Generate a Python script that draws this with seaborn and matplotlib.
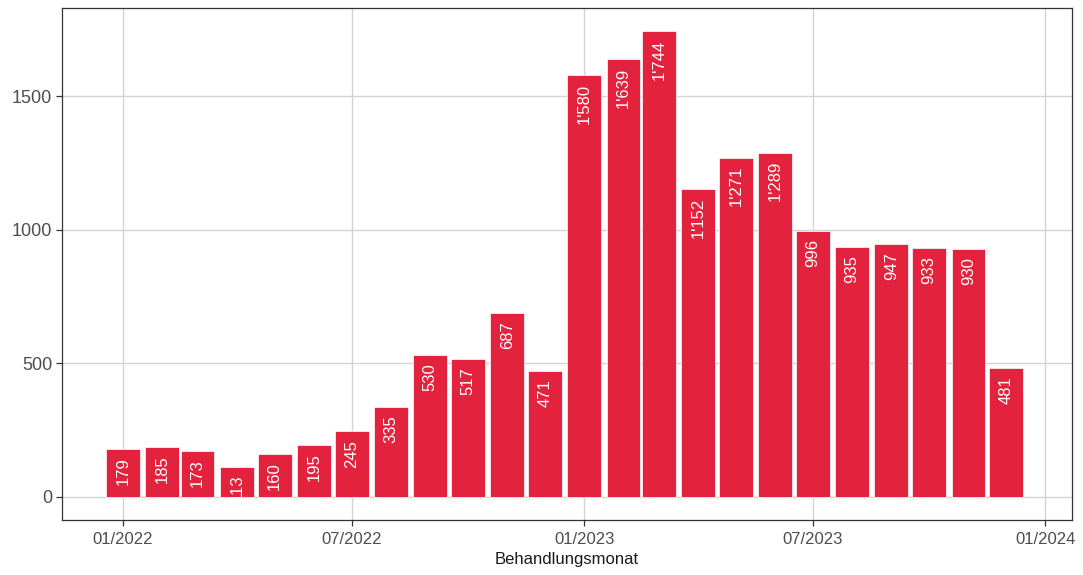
import pandas as pd
import seaborn as sns
import matplotlib.pyplot as plt
import matplotlib.dates as mdates

# data: monthly counts
months = pd.date_range("2022-01-01", "2023-12-01", freq="MS")
counts = [179, 185, 173, 113, 160, 195, 245, 335, 530, 517, 687, 471,
          1580, 1639, 1744, 1152, 1271, 1289, 996, 935, 947, 933, 930, 481]
x_ticks = ["2022-01-01", "2022-07-01", "2023-01-01", "2023-07-01", "2024-01-01"]

df = pd.DataFrame({"monat": mdates.date2num(months), "anzahl": counts})

sns.set_style("whitegrid")
plt.rcParams["font.family"] = ["Liberation Sans", "DejaVu Sans"]

fig = plt.figure(figsize=(10.83, 5.75), dpi=100)
ax = fig.add_axes([0.0573, 0.0957, 0.9325, 0.8903])

sns.barplot(data=df, x="monat", y="anzahl", native_scale=True, width=0.95,
            color="#E3223D", saturation=1, edgecolor="white", linewidth=0.5, ax=ax)

# white value labels, rotated, inside the bar top
for x, v in zip(df["monat"], df["anzahl"]):
    ax.annotate(f"{v:,}".replace(",", "'"), (x, v), xytext=(0, -6),
                textcoords="offset points", rotation=90, ha="center", va="top",
                color="white", fontsize=12, annotation_clip=False)

# axis ranges, ggplot-like expansion
start = mdates.date2num(pd.Timestamp("2022-01-01"))
ax.set_xlim(start - 48.3, start + 751)
ax.set_ylim(-87.2, 1831.2)

ax.set_xticks(mdates.date2num(pd.to_datetime(x_ticks)))
ax.xaxis.set_major_formatter(mdates.DateFormatter("%m/%Y"))
ax.set_yticks([0, 500, 1000, 1500])

ax.grid(True, color="#D4D4D4", linewidth=1.0)
ax.set_axisbelow(True)
for s in ax.spines.values():
    s.set_color("#333333")
    s.set_linewidth(0.9)
ax.tick_params(axis="both", bottom=True, left=True, length=4, width=0.9,
               color="#333333", labelcolor="#4D4D4D")
ax.tick_params(axis="x", labelsize=12, pad=5)
ax.tick_params(axis="y", labelsize=13, pad=3)
ax.set_xlabel("Behandlungsmonat", fontsize=12, color="#1A1A1A", labelpad=3)
ax.set_ylabel("")

plt.savefig("out.png", dpi=100)
